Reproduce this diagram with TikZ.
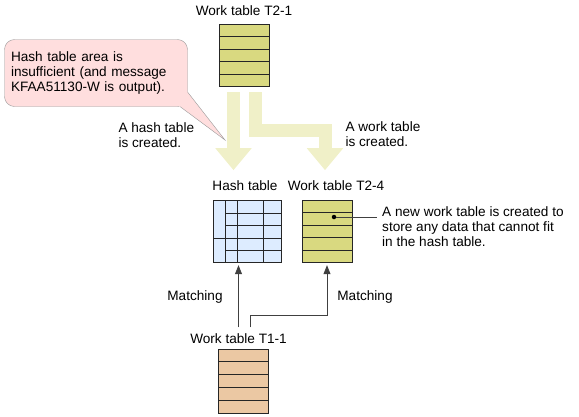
\documentclass[tikz,border=0pt]{standalone}
\usepackage{fontspec}
\setmainfont{Liberation Sans}
\usetikzlibrary{arrows.meta,calc}

\definecolor{tabyel}{RGB}{217,217,128}
\definecolor{tabpeach}{RGB}{235,200,163}
\definecolor{tabblue}{RGB}{221,236,255}
\definecolor{fatyel}{RGB}{240,240,200}
\definecolor{notepink}{RGB}{255,222,222}

\begin{document}
\begin{tikzpicture}[x=1pt,y=-1pt,font=\fontsize{13.6}{15}\selectfont]
      \tikzset{table/.style={draw=black!85, minimum width=50pt, minimum height=62pt, inner sep=0pt},
               fat/.style={draw=fatyel, line width=13pt, line join=miter, -{Triangle[length=22pt,width=35pt]}},
               match/.style={draw=black!75, thick, -{Triangle[length=9pt,width=7pt]}, shorten >=3pt}}
      \useasboundingbox (0,0) rectangle (579,416);
%% Tables
      	\node[table, fill=tabyel] (t21) at (244,55) {};
      	\node (t21lbl) at (244,11) {Work table T2-1};
      	\node[table, fill=tabblue, minimum width=68pt] (hash) at (247,231) {};
      	\node (hashlbl) at (245,186) {Hash table};
      	\node[table, fill=tabyel] (t24) at (327,231) {};
      	\node (t24lbl) at (336,186) {Work table T2-4};
      	\node[table, fill=tabpeach, minimum height=64pt] (t11) at (243.5,381) {};
      	\node (t11lbl) at (238.5,339) {Work table T1-1};
      	\foreach \t in {t21,t24,t11}
      	  \foreach \i in {1,...,4}
      	    \draw[black!85] ($(\t.north west)!\i/5!(\t.south west)$) -- ($(\t.north east)!\i/5!(\t.south east)$);
%  hash table grid
      	\draw[black!85] (225,200) -- (225,262) (237,200) -- (237,262) (263,200) -- (263,262);
      	\draw[black!85] (225,213) -- (281,213) (225,225) -- (281,225) (213,238) -- (281,238) (225,250) -- (281,250);
%% Callout and notes
      	\node[draw=black!40, fill=notepink, rounded corners=10pt, align=left,
      	      text width=170pt, inner xsep=6.5pt, minimum height=67pt] (short) at (96,73)
      	      {Hash table area is\\insufficient (and message\\KFAA51130-W is output).};
      	\coordinate (tip) at (225,140);
      	\fill[notepink] ([xshift=-7.5pt]short.south east) -- (tip) -- ([yshift=14.5pt]short.south east)
      	      -- ([shift={(-6,-14.5)}]short.south east) -- ([shift={(-11,-1.5)}]short.south east) -- cycle;
      	\draw[black!40] ([xshift=-7.5pt]short.south east) -- (tip) -- ([yshift=14.5pt]short.south east);
      	\node[align=left, anchor=west] (hashnew) at (115,135.5) {A hash table\\is created.};
      	\node[align=left, anchor=west] (worknew) at (342,134.5) {A work table\\is created.};
      	\node[align=left, anchor=west, inner xsep=5pt] (overflow) at (377,227)
      	      {A new work table is created to\\store any data that cannot fit\\in the hash table.};
      	\node[fill=black, circle, inner sep=0pt, minimum size=4.5pt] (dot) at (334,217) {};
      	\draw[black!75] (dot) -- (dot -| overflow.west);
      	\node (match1) at (195,297) {Matching};
      	\node (match2) at (365,297) {Matching};
%Arrows
      	\draw[fat] ([shift={(-10.5,6)}]t21.south) -- ++(0,78);
      	\draw[fat] ([shift={(11,6)}]t21.south) |- ++(70,38.5) -- ++(0,39.5);
      	\draw[match] ([yshift=3pt]t11lbl.north) -- (t11lbl.north |- hash.south);
      	\draw[match] ([shift={(11.5,-3)}]t11lbl.north) -- ++(0,-12) -| (t24.south);
\end{tikzpicture}
\end{document}
